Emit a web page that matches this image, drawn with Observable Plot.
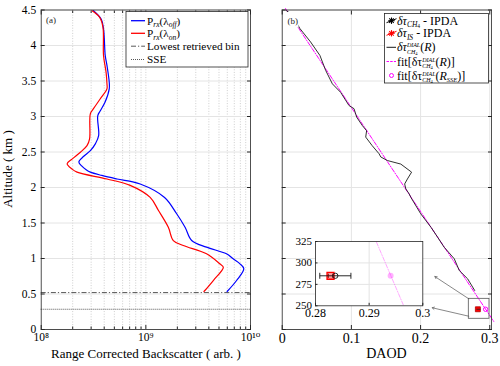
<!DOCTYPE html>
<html><head><meta charset="utf-8">
<script src="https://cdn.jsdelivr.net/npm/d3@7"></script>
<script src="https://cdn.jsdelivr.net/npm/@observablehq/plot@0.6"></script>
<style>
html,body{margin:0;padding:0;background:#fff;}
#wrap{position:relative;width:500px;height:366px;overflow:hidden;background:#fff;}
</style></head><body><div id="wrap"></div>
<script>
// ---------------- data ----------------
const altTicks = [0, 0.5, 1, 1.5, 2, 2.5, 3, 3.5, 4, 4.5];
const altTickLabels = ["0", "0.5", "1", "1.5", "2", "2.5", "3", "3.5", "4", "4.5"];
const rcbTicks = [1e8, 1e9, 1e10];
const rcbTickLabels = ["10⁸", "10⁹", "10¹⁰"];
const rcbMinorTicks = [2e8, 3e8, 4e8, 5e8, 6e8, 7e8, 8e8, 9e8, 2e9, 3e9, 4e9, 5e9, 6e9, 7e9, 8e9, 9e9];
const daodTicks = [0, 0.1, 0.2, 0.3];
const daodTickLabels = ["0", "0.1", "0.2", "0.3"];
const insetXTicks = [0.28, 0.29, 0.3];
const insetXTickLabels = ["0.28", "0.29", "0.3"];
const insetYTicks = [250, 275, 300, 325];
const insetYTickLabels = ["250", "275", "300", "325"];

// (a) range corrected backscatter, off-line (blue)
const altOff = [4.49, 4.37, 4.235, 4.09, 3.86, 3.72, 3.48, 3.39, 3.20, 3.08, 3.01, 2.73, 2.615, 2.52, 2.44, 2.36, 2.30, 2.25, 2.216, 2.17, 2.12, 2.05, 1.86, 1.63, 1.44, 1.253, 1.16, 1.066, 0.996, 0.925, 0.855, 0.69, 0.535];
const pOff   = [3.16e8, 3.75e8, 3.94e8, 4.01e8, 4.09e8, 4.25e8, 4.47e8, 4.47e8, 4.07e8, 3.67e8, 3.47e8, 3.54e8, 3.29e8, 2.95e8, 2.55e8, 2.29e8, 2.45e8, 2.69e8, 2.95e8, 3.8e8, 5.30e8, 8.83e8, 1.51e9, 1.97e9, 2.37e9, 2.74e9, 3.80e9, 5.89e9, 6.82e9, 7.94e9, 8.63e9, 7.36e9, 5.98e9];
// (a) on-line (red)
const altOn = [4.49, 4.40, 4.26, 3.86, 3.62, 3.46, 3.39, 3.25, 3.11, 3.04, 2.686, 2.59, 2.497, 2.40, 2.334, 2.26, 2.216, 2.12, 2.03, 1.86, 1.676, 1.44, 1.253, 1.183, 1.066, 0.925, 0.877, 0.69, 0.535];
const pOn   = [3.06e8, 3.61e8, 3.89e8, 3.94e8, 4.17e8, 4.25e8, 4.25e8, 3.67e8, 3.16e8, 2.95e8, 2.90e8, 2.74e8, 2.37e8, 1.97e8, 1.77e8, 1.97e8, 2.20e8, 4.25e8, 7.08e8, 1.10e9, 1.32e9, 1.64e9, 1.83e9, 2.28e9, 3.80e9, 5.09e9, 5.50e9, 4.41e9, 3.59e9];
const lowestBinAlt = 0.52;
const sseAlt = 0.285;

// (b) DIAL differential optical depth profile
const dialAlt  = [4.49, 4.43, 4.24, 4.05, 3.86, 3.65, 3.46, 3.34, 3.155, 3.11, 2.99, 2.87, 2.80, 2.71, 2.59, 2.475, 2.43, 2.38, 2.33, 2.216, 2.12, 2.05, 1.98, 1.91, 1.86, 1.63, 1.44, 1.30, 1.16, 0.996, 0.83, 0.714, 0.55];
const dialDaod = [0.0062, 0.0145, 0.0255, 0.041, 0.0545, 0.0628, 0.0725, 0.0845, 0.0965, 0.1038, 0.1077, 0.116, 0.122, 0.1207, 0.130, 0.140, 0.1425, 0.152, 0.1714, 0.187, 0.181, 0.177, 0.1787, 0.1835, 0.186, 0.2002, 0.215, 0.2246, 0.234, 0.2487, 0.256, 0.268, 0.2782];
const fitAlt  = [4.52, 0.11];
const fitDaod = [0.0048, 0.306];
const ipdaDaod = 0.2837, ipdaErr = 0.0029;
const isDaod = 0.2828, isErr = 0.0004;
const fitSseDaod = 0.294;
const zoomBoxDaod = [0.2697, 0.2996];
const zoomBoxAlt = [0.151, 0.432];
const arrowFromDaod = [0.2697, 0.2697];
const arrowFromAlt  = [0.432, 0.187];
const arrowToDaod   = [0.2206, 0.2168];
const arrowToAlt    = [0.746, 0.306];

// ---------------- style ----------------
const FONT = "'Liberation Serif', 'Times New Roman', Times, 'DejaVu Serif', serif";
const AX = "#262626";
const GRID = "#e4e4e4";
const GRID2 = "#cdcdcd";
const BLUE = "#0000ff", RED = "#ff0000", MAG = "#ff00ff";

const wrap = document.getElementById("wrap");
function place(el, left, top) {
  el.style.position = "absolute";
  el.style.left = left + "px";
  el.style.top = top + "px";
  wrap.appendChild(el);
  return el;
}
function fmt(ticks, labels) {
  const m = new Map(ticks.map((t, i) => [t, labels[i]]));
  return d => m.get(d) ?? "";
}
function addParts(t, parts, state, dx0) {
  let len = 0;
  parts.forEach((p, k) => {
    const s = t.append("tspan").text(p.t);
    const sh = p.sh || 0;
    s.attr("dy", sh - state.cur);
    state.cur = sh;
    if (k === 0 && dx0) s.attr("dx", dx0);
    if (p.i) s.style("font-style", "italic");
    if (p.fs) s.style("font-size", p.fs + "px");
    len += s.node().getComputedTextLength();
  });
  return len;
}
function rich(g, x, y, parts, size) {
  const t = g.append("text").attr("x", x).attr("y", y).attr("text-anchor", "start")
    .style("font-family", FONT).style("font-size", size + "px").attr("fill", "#000");
  const state = {cur: 0};
  let dx = 0;
  for (const p of parts) {
    if (p.stack) {
      const la = addParts(t, p.stack[0], state, dx);
      const lb = addParts(t, p.stack[1], state, -la);
      dx = Math.max(0, la - lb);
    } else {
      addParts(t, [p], state, dx);
      dx = 0;
    }
  }
  return t;
}
const baseStyle = {fontFamily: FONT, fontSize: "11.5px", color: AX, background: "transparent", overflow: "visible"};

// ---------------- panel (a) ----------------
const plotA = Plot.plot({
  width: 258, height: 366,
  marginLeft: 40.7, marginRight: 8, marginTop: 9.5, marginBottom: 37,
  style: baseStyle,
  x: {type: "log", domain: [1e8, 1e10], label: null},
  y: {domain: [0, 4.5], label: null},
  marks: [
    Plot.gridX(rcbMinorTicks.concat([1e9]), {stroke: GRID2, strokeOpacity: 1, strokeDasharray: "1,1.6"}),
    Plot.gridY(altTicks, {stroke: GRID, strokeOpacity: 1}),
    Plot.ruleY([lowestBinAlt], {stroke: "#444", strokeWidth: 0.9, strokeDasharray: "5,2,1.2,2"}),
    Plot.ruleY([sseAlt], {stroke: "#444", strokeWidth: 0.9, strokeDasharray: "1,1"}),
    Plot.line(pOff, {x: pOff, y: altOff, stroke: BLUE, strokeWidth: 1.2, curve: "catmull-rom"}),
    Plot.line(pOn, {x: pOn, y: altOn, stroke: RED, strokeWidth: 1.2, curve: "catmull-rom"}),
    Plot.frame({stroke: AX, strokeWidth: 0.8}),
    Plot.axisX({ticks: rcbTicks, tickSize: 0, tickPadding: 3.5, tickFormat: fmt(rcbTicks, rcbTickLabels), fontSize: 11.5, fill: "#000"}),
    Plot.axisX({ticks: rcbTicks, tickSize: -4, tickFormat: () => "", stroke: AX}),
    Plot.axisX({ticks: rcbMinorTicks, tickSize: -2.5, tickFormat: () => "", stroke: AX}),
    Plot.axisX({anchor: "top", ticks: rcbTicks, tickSize: -4, tickFormat: () => "", stroke: AX}),
    Plot.axisX({anchor: "top", ticks: rcbMinorTicks, tickSize: -2.5, tickFormat: () => "", stroke: AX}),
    Plot.axisY({ticks: altTicks, tickSize: 0, tickPadding: 5, tickFormat: fmt(altTicks, altTickLabels), fontSize: 11.5, fill: "#000"}),
    Plot.axisY({ticks: altTicks, tickSize: -4, tickFormat: () => "", stroke: AX}),
    Plot.axisY({anchor: "right", ticks: altTicks, tickSize: -4, tickFormat: () => "", stroke: AX})
  ]
});
place(plotA, 0, 0);
{
  const svg = d3.select(plotA);
  svg.append("text").attr("transform", "translate(12,169) rotate(-90)").attr("text-anchor", "middle")
    .style("font-family", FONT).style("font-size", "13px").attr("fill", "#000").text("Altitude ( km )");
  svg.append("text").attr("x", 146).attr("y", 358).attr("text-anchor", "middle")
    .style("font-family", FONT).style("font-size", "13px").attr("fill", "#000").text("Range Corrected Backscatter ( arb. )");
  svg.append("text").attr("x", 46).attr("y", 23).attr("text-anchor", "start").style("font-family", FONT).style("font-size", "9px").attr("fill", AX).text("(a)");
  const g = svg.append("g");
  g.append("rect").attr("x", 126).attr("y", 11.5).attr("width", 122).attr("height", 55.5)
    .attr("fill", "#fff").attr("stroke", AX).attr("stroke-width", 0.8);
  const rows = [20.7, 33.3, 46.2, 59.5];
  const sty = [[BLUE, null, 1.3], [RED, null, 1.3], ["#444", "5,2,1.2,2", 0.9], ["#444", "1,1", 0.9]];
  rows.forEach((yy, k) => {
    const l = g.append("line").attr("x1", 131).attr("x2", 145).attr("y1", yy).attr("y2", yy)
      .attr("stroke", sty[k][0]).attr("stroke-width", sty[k][2]);
    if (sty[k][1]) l.attr("stroke-dasharray", sty[k][1]);
  });
  const fs = 11.2;
  rich(g, 147, rows[0] + 3.8, [{t: "P"}, {t: "rx", i: 1, fs: 7.5, sh: 2.5}, {t: "(λ"}, {t: "off", i: 1, fs: 7.5, sh: 2.5}, {t: ")"}], fs);
  rich(g, 147, rows[1] + 3.8, [{t: "P"}, {t: "rx", i: 1, fs: 7.5, sh: 2.5}, {t: "(λ"}, {t: "on", i: 1, fs: 7.5, sh: 2.5}, {t: ")"}], fs);
  rich(g, 147, rows[2] + 3.8, [{t: "Lowest retrieved bin"}], fs);
  rich(g, 147, rows[3] + 3.8, [{t: "SSE"}], fs);
}

// ---------------- panel (b) ----------------
const boxData = [{x1: zoomBoxDaod[0], x2: zoomBoxDaod[1], y1: zoomBoxAlt[0], y2: zoomBoxAlt[1]}];
const arrowData = arrowFromDaod.map((d, i) => ({x1: d, y1: arrowFromAlt[i], x2: arrowToDaod[i], y2: arrowToAlt[i]}));
const plotB = Plot.plot({
  width: 242, height: 366,
  marginLeft: 23.7, marginRight: 9, marginTop: 9.5, marginBottom: 37,
  style: baseStyle,
  x: {domain: [0, 0.3025], label: null},
  y: {domain: [0, 4.5], label: null},
  marks: [
    Plot.gridX([0.1, 0.2, 0.3], {stroke: GRID, strokeOpacity: 1}),
    Plot.gridY(altTicks, {stroke: GRID, strokeOpacity: 1}),
    Plot.line(fitDaod, {x: fitDaod, y: fitAlt, stroke: MAG, strokeWidth: 1, strokeDasharray: "4,1.5,1,1.5"}),
    Plot.line(dialDaod, {x: dialDaod, y: dialAlt, stroke: "#1a1a1a", strokeWidth: 0.9}),
    Plot.rect(boxData, {x1: "x1", x2: "x2", y1: "y1", y2: "y2", stroke: "#555", strokeWidth: 0.8, fill: "none"}),
    Plot.arrow(arrowData, {x1: "x1", y1: "y1", x2: "x2", y2: "y2", stroke: "#555", strokeWidth: 0.7, headLength: 5}),
    Plot.dot([isDaod], {x: [isDaod], y: [sseAlt], symbol: "square", r: 2.8, fill: RED, stroke: "#b00000", strokeWidth: 0.8}),
    Plot.link([ipdaDaod], {x1: [ipdaDaod - ipdaErr], x2: [ipdaDaod + ipdaErr], y1: [sseAlt], y2: [sseAlt], stroke: "#222", strokeWidth: 0.8}),
    Plot.dot([fitSseDaod], {x: [fitSseDaod], y: [sseAlt], r: 2.2, stroke: MAG, strokeWidth: 1, fill: "none"}),
    Plot.frame({stroke: AX, strokeWidth: 0.8}),
    Plot.axisX({ticks: daodTicks, tickSize: 0, tickPadding: 4, tickFormat: fmt(daodTicks, daodTickLabels), fontSize: 14, fill: "#000"}),
    Plot.axisX({ticks: daodTicks, tickSize: -4, tickFormat: () => "", stroke: AX}),
    Plot.axisX({anchor: "top", ticks: daodTicks, tickSize: -4, tickFormat: () => "", stroke: AX}),
    Plot.axisY({ticks: altTicks, tickSize: -4, tickFormat: () => "", stroke: AX}),
    Plot.axisY({anchor: "right", ticks: altTicks, tickSize: -4, tickFormat: () => "", stroke: AX})
  ]
});
place(plotB, 258, 0);
{
  const svg = d3.select(plotB);
  svg.append("text").attr("x", 128.4).attr("y", 358).attr("text-anchor", "middle")
    .style("font-family", FONT).style("font-size", "14px").attr("fill", "#000").text("DAOD");
  svg.append("rect").attr("x", 27.5).attr("y", 12).attr("width", 13).attr("height", 15).attr("fill", "#fff");
  svg.append("text").attr("x", 29.5).attr("y", 23.5).attr("text-anchor", "start").style("font-family", FONT).style("font-size", "9px").attr("fill", AX).text("(b)");
  const g = svg.append("g");
  g.append("rect").attr("x", 126.5).attr("y", 13.5).attr("width", 104).attr("height", 69.5)
    .attr("fill", "#fff").attr("stroke", AX).attr("stroke-width", 0.8);
  const rows = [20.7, 33.3, 47.3, 61.5, 75.5];
  const sx = 133.5;
  [[rows[0], "#000"], [rows[1], RED]].forEach(([yy, c]) => {
    g.append("line").attr("x1", sx - 5).attr("x2", sx + 5).attr("y1", yy + 2).attr("y2", yy - 2).attr("stroke", c).attr("stroke-width", 1);
    for (let a = 0; a < 180; a += 45) {
      const r = a * Math.PI / 180;
      g.append("line").attr("x1", sx - 3.2 * Math.cos(r)).attr("x2", sx + 3.2 * Math.cos(r))
        .attr("y1", yy - 3.2 * Math.sin(r)).attr("y2", yy + 3.2 * Math.sin(r)).attr("stroke", c).attr("stroke-width", 1.1);
    }
  });
  g.append("line").attr("x1", 128.5).attr("x2", 138).attr("y1", rows[2]).attr("y2", rows[2]).attr("stroke", "#1a1a1a").attr("stroke-width", 1);
  g.append("line").attr("x1", 128.5).attr("x2", 138).attr("y1", rows[3]).attr("y2", rows[3]).attr("stroke", MAG).attr("stroke-width", 1).attr("stroke-dasharray", "2.5,1.2");
  g.append("circle").attr("cx", sx).attr("cy", rows[4]).attr("r", 2).attr("fill", "none").attr("stroke", MAG).attr("stroke-width", 1);
  const fs = 12, tx = 139;
  const stack = {stack: [[{t: "DIAL", i: 1, fs: 6, sh: -4}], [{t: "CH", i: 1, fs: 6, sh: 2.2}, {t: "4", fs: 4.5, sh: 3.4}]]};
  rich(g, tx, rows[0] + 4, [{t: "δτ", i: 1}, {t: "CH", i: 1, fs: 7.5, sh: 2.2}, {t: "4", fs: 5.5, sh: 3.6}, {t: " - IPDA"}], fs);
  rich(g, tx, rows[1] + 4, [{t: "δτ", i: 1}, {t: "IS", i: 1, fs: 7.5, sh: 2.2}, {t: " - IPDA"}], fs);
  rich(g, tx, rows[2] + 4, [{t: "δτ", i: 1}, stack, {t: "("}, {t: "R", i: 1}, {t: ")"}], fs);
  rich(g, tx, rows[3] + 4, [{t: "fit[δτ"}, stack, {t: "("}, {t: "R", i: 1}, {t: ")]"}], fs);
  rich(g, tx, rows[4] + 4, [{t: "fit[δτ"}, stack, {t: "("}, {t: "R", i: 1}, {t: "SSE", i: 1, fs: 6.5, sh: 2.2}, {t: ")]"}], fs);
}

// ---------------- inset ----------------
const sseM = sseAlt * 1000;
const fitAltM = fitAlt.map(h => h * 1000);
const plotI = Plot.plot({
  width: 140, height: 100,
  marginLeft: 25, marginRight: 7.7, marginTop: 11, marginBottom: 24.7,
  style: baseStyle,
  x: {domain: [0.28, 0.3], label: null},
  y: {domain: [250, 325], label: null},
  marks: [
    Plot.frame({fill: "#fff"}),
    Plot.gridX([0.29], {stroke: GRID, strokeOpacity: 1}),
    Plot.gridY([275, 300], {stroke: GRID, strokeOpacity: 1}),
    Plot.line(fitDaod, {x: fitDaod, y: fitAltM, stroke: MAG, strokeOpacity: 0.35, strokeWidth: 1, strokeDasharray: "4,1.5,1,1.5", clip: true}),
    Plot.dot([fitSseDaod], {x: [fitSseDaod], y: [sseM], r: 3, fill: MAG, fillOpacity: 0.3}),
    Plot.dot([isDaod], {x: [isDaod], y: [sseM], symbol: "square", r: 3.9, fill: "#ff9a9a", stroke: RED, strokeWidth: 1.4}),
    Plot.link([ipdaDaod], {x1: [ipdaDaod - ipdaErr], x2: [ipdaDaod + ipdaErr], y1: [sseM], y2: [sseM], stroke: "#111", strokeWidth: 0.9}),
    Plot.link([0, 1], {x1: [ipdaDaod - ipdaErr, ipdaDaod + ipdaErr], x2: [ipdaDaod - ipdaErr, ipdaDaod + ipdaErr], y1: [sseM - 3.5, sseM - 3.5], y2: [sseM + 3.5, sseM + 3.5], stroke: "#111", strokeWidth: 0.9}),
    Plot.link([0, 1], {x1: [isDaod - isErr, isDaod + isErr], x2: [isDaod - isErr, isDaod + isErr], y1: [sseM - 2.5, sseM - 2.5], y2: [sseM + 2.5, sseM + 2.5], stroke: "#600", strokeWidth: 0.8}),
    Plot.dot([ipdaDaod], {x: [ipdaDaod], y: [sseM], r: 2.6, stroke: "#111", strokeWidth: 0.9, fill: "none"}),
    Plot.frame({stroke: AX, strokeWidth: 0.8}),
    Plot.axisX({ticks: insetXTicks, tickSize: 0, tickPadding: 3, tickFormat: fmt(insetXTicks, insetXTickLabels), fontSize: 12, fill: "#000"}),
    Plot.axisY({ticks: insetYTicks, tickSize: 0, tickPadding: 3.5, tickFormat: fmt(insetYTicks, insetYTickLabels), fontSize: 11, fill: "#000"}),
    Plot.axisX({ticks: insetXTicks, tickSize: -2.5, tickFormat: () => "", stroke: AX}),
    Plot.axisY({ticks: insetYTicks, tickSize: -2.5, tickFormat: () => "", stroke: AX})
  ]
});
place(plotI, 290, 230);
</script>
</body></html>
